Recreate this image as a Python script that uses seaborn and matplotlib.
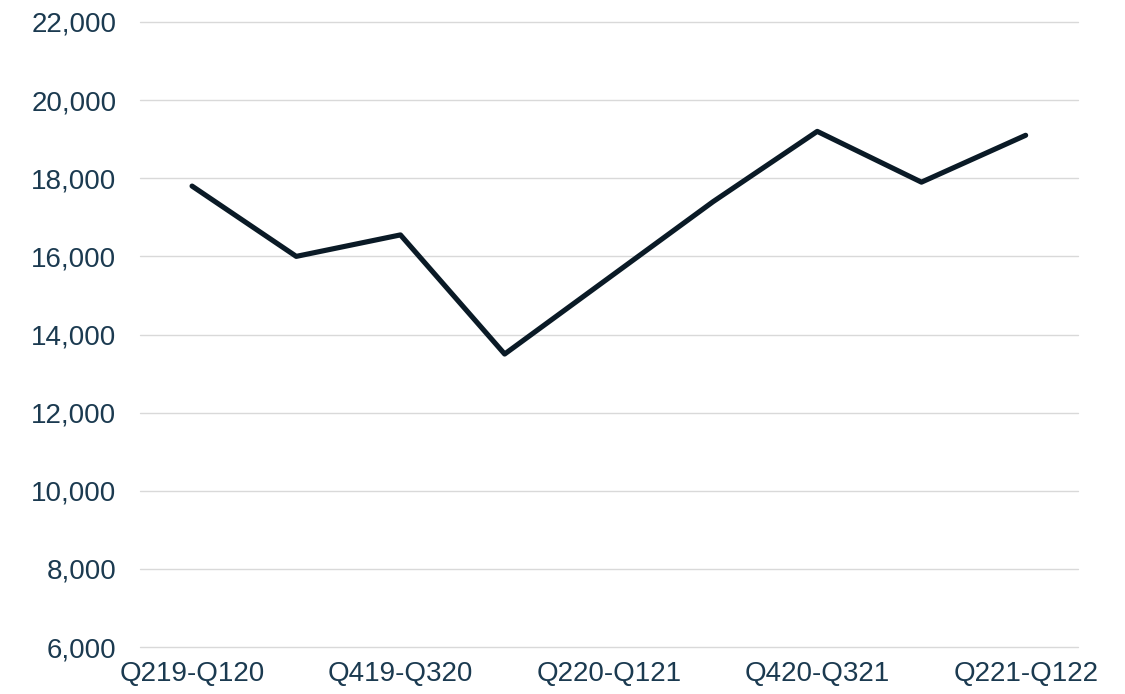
import matplotlib
matplotlib.use('Agg')
import matplotlib.pyplot as plt
import seaborn as sns
import pandas as pd

# rolling four-quarter windows
periods = ['Q219-Q120', 'Q319-Q220', 'Q419-Q320', 'Q120-Q420', 'Q220-Q121',
           'Q320-Q221', 'Q420-Q321', 'Q121-Q421', 'Q221-Q122']
values = [17800, 16000, 16550, 13500, 15450, 17400, 19200, 17900, 19100]
y_ticks = [6000, 8000, 10000, 12000, 14000, 16000, 18000, 20000, 22000]

df = pd.DataFrame({'pos': range(len(periods)), 'value': values})

sns.set_theme(style='white')
plt.rcParams['font.family'] = ['Liberation Sans', 'DejaVu Sans']

text_col = '#1b3a50'
fig = plt.figure(figsize=(11.25, 6.94), dpi=100)
ax = fig.add_axes([0.1244, 0.0677, 0.8336, 0.9006])

sns.lineplot(data=df, x='pos', y='value', ax=ax, color='#0a1a26', linewidth=3.7)

ax.set_xlim(-0.5, len(periods) - 0.5)
ax.set_ylim(y_ticks[0], y_ticks[-1])
ax.set_yticks(y_ticks)
ax.set_yticklabels([f'{v:,}' for v in y_ticks])
ax.set_xticks(df['pos'][::2])
ax.set_xticklabels(periods[::2])
ax.yaxis.grid(True, color='#d9d9d9', linewidth=1)
ax.xaxis.grid(False)
for gl in ax.get_ygridlines():
    gl.set_clip_on(False)
for s in ax.spines.values():
    s.set_visible(False)
ax.tick_params(axis='y', length=0, pad=17, labelsize=20, labelcolor=text_col)
ax.tick_params(axis='x', length=0, pad=10, labelsize=20, labelcolor=text_col)
ax.set_xlabel('')
ax.set_ylabel('')

fig.savefig('out.png', dpi=100)
